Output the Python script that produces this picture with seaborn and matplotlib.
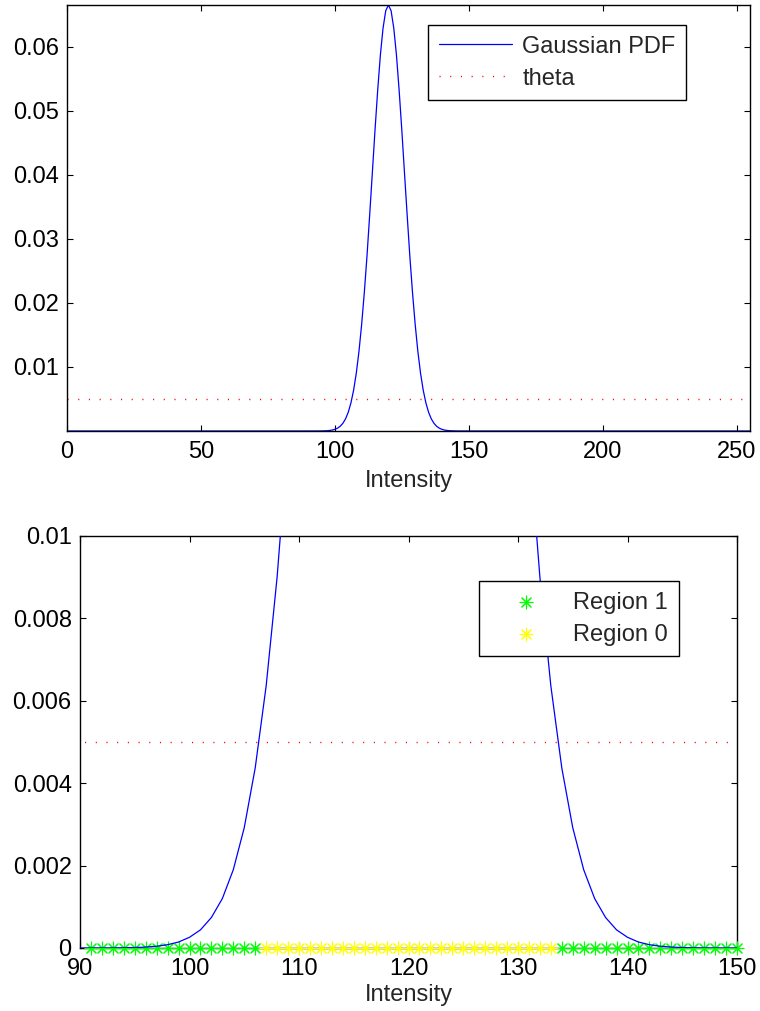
import matplotlib
matplotlib.use("Agg")
import matplotlib.pyplot as plt
import seaborn as sns

# Gaussian PDF of intensity (mean 120, sd 6) sampled at integer levels
intensity = [0,
             90, 91, 92, 93, 94, 95, 96, 97, 98, 99,
             100, 101, 102, 103, 104, 105, 106, 107, 108, 109,
             110, 111, 112, 113, 114, 115, 116, 117, 118, 119,
             120, 121, 122, 123, 124, 125, 126, 127, 128, 129,
             130, 131, 132, 133, 134, 135, 136, 137, 138, 139,
             140, 141, 142, 143, 144, 145, 146, 147, 148, 149,
             150, 255]
pdf = [0.0,
       0.0000002, 0.0000006, 0.0000012, 0.0000027, 0.0000056,
       0.000011, 0.000022, 0.000043, 0.000080, 0.000145,
       0.00026, 0.00044, 0.00074, 0.00120, 0.00190,
       0.00292, 0.00437, 0.00636, 0.00900, 0.0124,
       0.0166, 0.0216, 0.0273, 0.0337, 0.0403,
       0.0470, 0.0532, 0.0587, 0.0629, 0.0656,
       0.0665,
       0.0656, 0.0629, 0.0587, 0.0532, 0.0470,
       0.0403, 0.0337, 0.0273, 0.0216, 0.0166,
       0.0124, 0.00900, 0.00636, 0.00437, 0.00292,
       0.00190, 0.00120, 0.00074, 0.00044, 0.00026,
       0.000145, 0.000080, 0.000043, 0.000022, 0.000011,
       0.0000056, 0.0000027, 0.0000012, 0.0000006, 0.0000002,
       0.0]

theta = 0.005
theta_x = [0, 255]

# Intensities classified below / above the threshold
region1_x = [91, 92, 93, 94, 95, 96, 97, 98, 99, 100, 101, 102, 103, 104, 105, 106,
             134, 135, 136, 137, 138, 139, 140, 141, 142, 143, 144, 145, 146, 147,
             148, 149, 150]
region0_x = [107, 108, 109, 110, 111, 112, 113, 114, 115, 116, 117, 118, 119, 120,
             121, 122, 123, 124, 125, 126, 127, 128, 129, 130, 131, 132, 133]
region1_y = [0.0] * len(region1_x)
region0_y = [0.0] * len(region0_x)

top_xticks = [0, 50, 100, 150, 200, 250]
top_yticks = [0.01, 0.02, 0.03, 0.04, 0.05, 0.06]
top_yticklabels = ["0.01", "0.02", "0.03", "0.04", "0.05", "0.06"]
bot_xticks = [90, 100, 110, 120, 130, 140, 150]
bot_yticks = [0, 0.002, 0.004, 0.006, 0.008, 0.01]
bot_yticklabels = ["0", "0.002", "0.004", "0.006", "0.008", "0.01"]

sns.set_style("ticks")
plt.rcParams["font.family"] = ["Liberation Sans", "DejaVu Sans"]
FS = 17

W, H = 760, 1011
fig = plt.figure(figsize=(W / 100, H / 100), dpi=100)


def frac_axes(left, top, right, bottom):
    return fig.add_axes([left / W, 1 - bottom / H, (right - left) / W, (bottom - top) / H])


def style_axes(ax):
    for s in ax.spines.values():
        s.set_visible(True)
        s.set_color("black")
        s.set_linewidth(1.0)
    ax.tick_params(direction="in", length=4.5, width=0.8, top=True, right=True,
                   labelsize=FS, colors="black")
    ax.tick_params(axis="x", pad=7)
    ax.tick_params(axis="y", pad=6)
    ax.set_facecolor("white")


dot_style = (0, (0.8, 6.9))

# ---- top panel: full intensity range ----
ax1 = frac_axes(67, 5, 750, 431)
sns.lineplot(x=intensity, y=pdf, ax=ax1, color="#0000ff", linewidth=0.9,
             label="Gaussian PDF", sort=True)
sns.lineplot(x=theta_x, y=[theta, theta], ax=ax1, color="#ff0000",
             linewidth=1.0, linestyle=dot_style, label="theta")
ax1.set_xlim(0, 255)
ax1.set_ylim(0, max(pdf))
ax1.set_xticks(top_xticks)
ax1.set_yticks(top_yticks)
ax1.set_yticklabels(top_yticklabels)
ax1.set_xlabel("Intensity", fontsize=FS, labelpad=5)
ax1.set_ylabel("")
style_axes(ax1)
leg1 = ax1.legend(loc="upper left", bbox_to_anchor=(428 / W, 1 - 25 / H),
                  bbox_transform=fig.transFigure, borderaxespad=0, fontsize=FS,
                  frameon=True, fancybox=False, framealpha=1, edgecolor="black",
                  handlelength=3.1, handletextpad=0.45, borderpad=0.45,
                  labelspacing=0.42)
leg1.get_frame().set_linewidth(1.0)

# ---- bottom panel: zoom around the peak ----
ax2 = frac_axes(80, 536, 737, 948)
sns.scatterplot(x=region1_x, y=region1_y, ax=ax2, marker=(8, 2, 0), s=85,
                color="#00ff00", linewidth=0.8, clip_on=False, label="Region 1",
                zorder=3)
sns.scatterplot(x=region0_x, y=region0_y, ax=ax2, marker=(8, 2, 0), s=85,
                color="#ffff00", linewidth=0.8, clip_on=False, label="Region 0",
                zorder=3)
sns.lineplot(x=intensity, y=pdf, ax=ax2, color="#0000ff", linewidth=0.9,
             zorder=4, legend=False)
ax2.plot(theta_x, [theta, theta], color="#ff0000", linewidth=1.0,
         linestyle=dot_style)
ax2.set_xlim(90, 150)
ax2.set_ylim(0, 0.01)
ax2.set_xticks(bot_xticks)
ax2.set_yticks(bot_yticks)
ax2.set_yticklabels(bot_yticklabels)
ax2.set_xlabel("Intensity", fontsize=FS, labelpad=3)
ax2.set_ylabel("")
style_axes(ax2)
handles, labels = ax2.get_legend_handles_labels()
leg2 = ax2.legend(handles[:2], labels[:2], loc="upper left",
                  bbox_to_anchor=(479 / W, 1 - 581 / H),
                  bbox_transform=fig.transFigure, borderaxespad=0, fontsize=FS,
                  frameon=True, fancybox=False, framealpha=1, edgecolor="black",
                  handlelength=3.1, handletextpad=0.45, borderpad=0.45,
                  labelspacing=0.42, scatterpoints=1)
leg2.get_frame().set_linewidth(1.0)

fig.savefig("out.png", dpi=100, facecolor="white")
